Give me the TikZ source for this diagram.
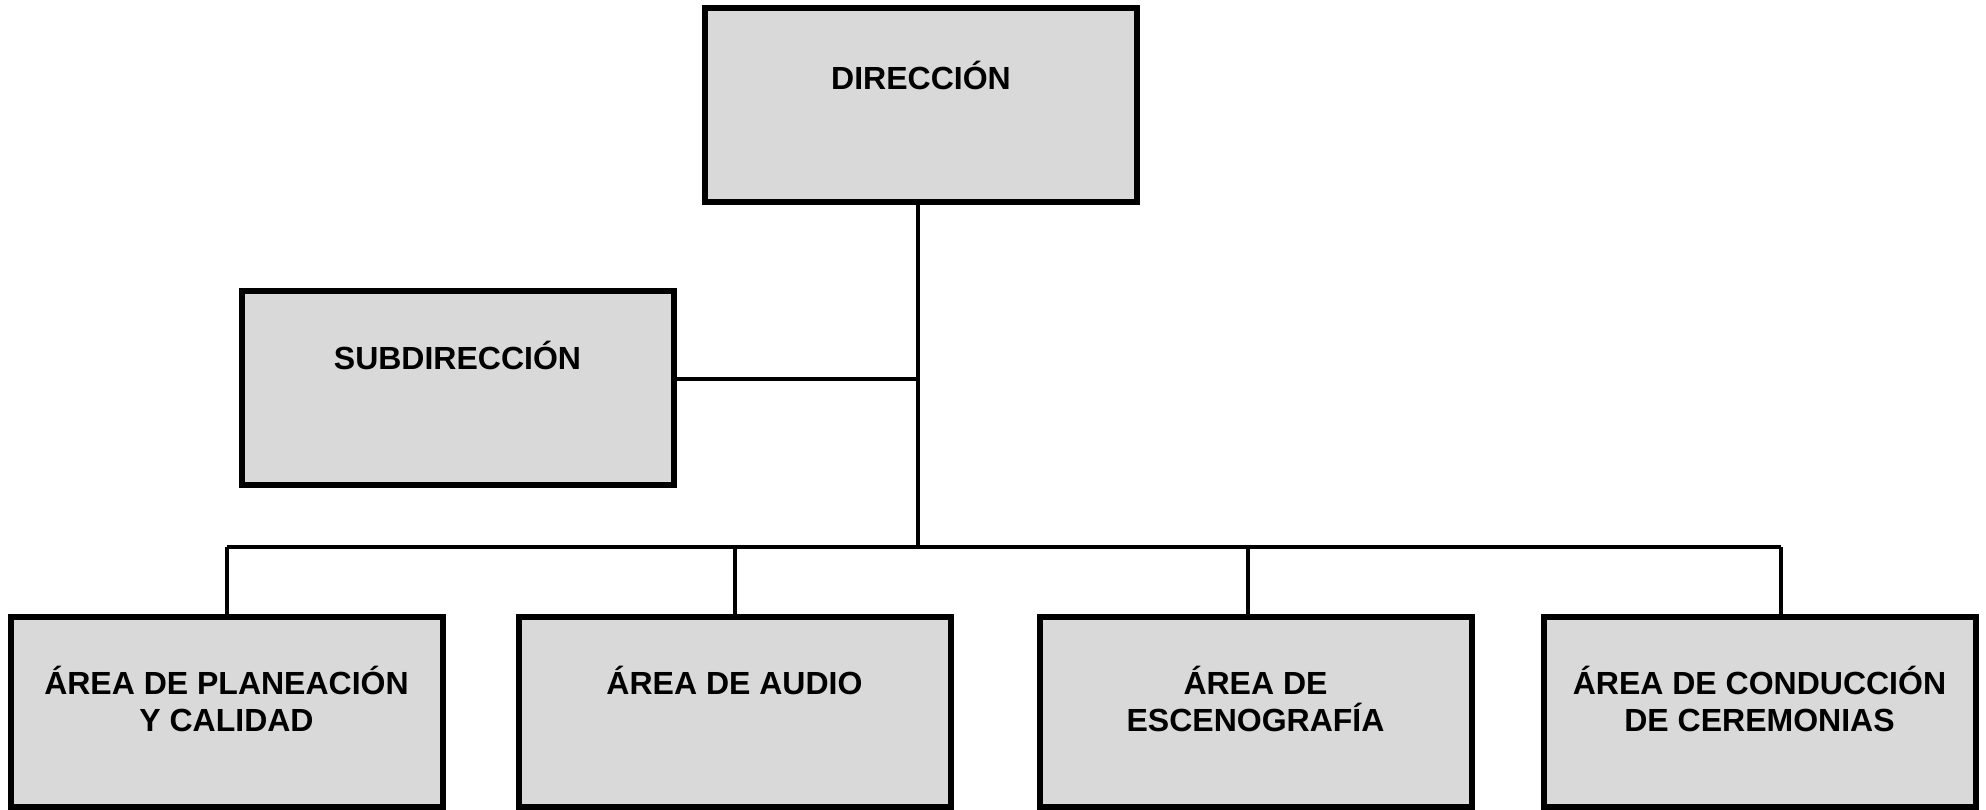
\documentclass[tikz,border=0pt]{standalone}
\usepackage{fontspec}
\setmainfont{Liberation Sans}
\usetikzlibrary{positioning}
\definecolor{boxgray}{RGB}{217,217,217}
\tikzset{
  unit/.style={rectangle,draw=black,fill=boxgray,line width=3pt,
    minimum width=216pt,minimum height=97pt},
  lowunit/.style={unit,minimum height=95pt},
  unittext/.style={anchor=north,yshift=-25.5pt,inner sep=0pt,align=center,
    font=\bfseries\fontsize{16}{18.3}\selectfont},
  conn/.style={line width=1.75pt}
}
\begin{document}
\begin{tikzpicture}[x=0.5pt,y=-0.5pt]
  \useasboundingbox (0,0) rectangle (1986,809);

  \node [unit,label={[unittext,yshift=-2.5pt]north:DIRECCIÓN}] (dir) at (921,105) {};
  \node [unit,label={[unittext,yshift=-1pt]north:SUBDIRECCIÓN}] (subdir) at (457.5,387.5) {};

  \node [lowunit,label={[unittext,yshift=-0.5pt]north:ÁREA DE PLANEACIÓN\\Y CALIDAD}] (a1) at (226.5,712) {};
  \node [lowunit,label={[unittext,yshift=-0.5pt]north:ÁREA DE AUDIO}] (a2) at (734.5,712) {};
  \node [lowunit,label={[unittext,yshift=-0.5pt]north:ÁREA DE\\ESCENOGRAFÍA}] (a3) at (1255.5,712) {};
  \node [lowunit,label={[unittext,yshift=-0.5pt]north:ÁREA DE CONDUCCIÓN\\DE CEREMONIAS}] (a4) at (1759.5,712) {};

  % trunk and bus
  \coordinate (sj) at (918,379);
  \coordinate (bus) at (918,547);
  \coordinate (b1) at (227,547);
  \coordinate (b2) at (735,547);
  \coordinate (b3) at (1248,547);
  \coordinate (b4) at (1781,547);

  \draw [conn] (dir.south -| bus) -- (bus);
  \draw [conn] (subdir.east |- sj) -- (sj);
  \draw [conn] (b1) -- (b4);
  \foreach \i in {1,...,4}
    \draw [conn] (b\i) -- (b\i |- a\i.north);
\end{tikzpicture}
\end{document}
